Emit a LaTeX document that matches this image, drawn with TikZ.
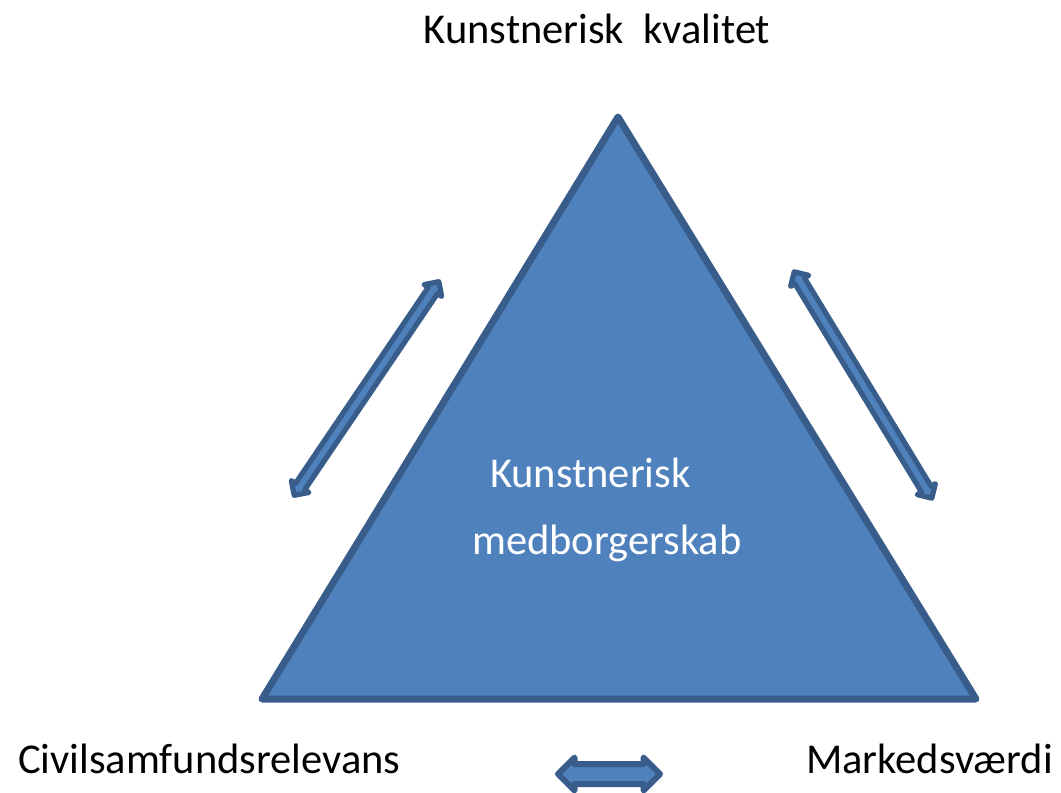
\documentclass[tikz,border=0pt]{standalone}
\usepackage{fontspec}
\setmainfont{Carlito}
\usetikzlibrary{shapes.arrows}

\definecolor{triblue}{HTML}{4F81BD}
\definecolor{tridark}{HTML}{385D8A}

\tikzset{
	label/.style={font=\fontsize{42.5}{48}\selectfont, inner sep=0pt},
	twoway/.style={double arrow, fill=triblue, draw=tridark, line join=round,
		inner xsep=0pt, inner ysep=3pt, double arrow head extend=5pt, line width=5.2pt},
}

\begin{document}
\begin{tikzpicture}[x=1pt, y=-1pt]
		
		\useasboundingbox (0,0) rectangle (1061,793);
		
		\coordinate (top) at (618,117);
		\coordinate (left) at (262,699);
		\coordinate (right) at (976,699);
		\draw[fill=triblue, draw=tridark, line width=7pt, line join=round]
		(top) -- (left) -- (right) -- cycle;
		
		\node[label, anchor=base] (quality) at (597,43) {Kunstnerisk~~kvalitet};
		\node[label, anchor=base west] (civil) at (18,773) {Civilsamfundsrelevans};
		\node[label, anchor=base east] (market) at (1053,773) {Markedsværdi};
		\node[label, text=white, anchor=base west] (inner1) at (490,487) {Kunstnerisk};
		\node[label, text=white, anchor=base west] (inner2) at (472,554) {medborgerskab};
		
		\node[twoway, minimum height=258pt, rotate=55.9] (leftarrow) at (366.5,388.5) {};
		\node[twoway, minimum height=265pt, rotate=-58.7] (rightarrow) at (863,385) {};
		\node[twoway, minimum height=102pt, inner ysep=7pt, line width=6pt,
		double arrow head extend=6.5pt] (bottomarrow) at (609,774) {};
		
		\end{tikzpicture}
\end{document}
